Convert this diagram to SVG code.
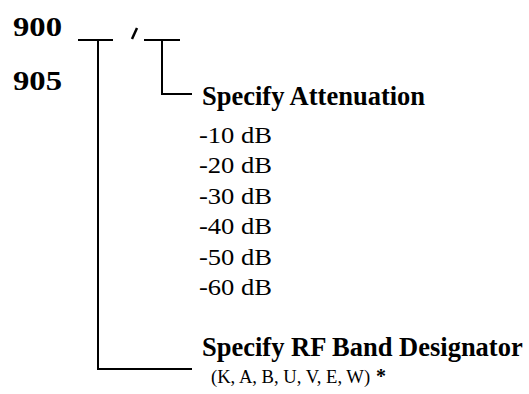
<svg xmlns="http://www.w3.org/2000/svg" width="529" height="394" viewBox="0 0 529 394">
<style>
.b{font-family:"Liberation Serif","Times New Roman",serif;font-weight:bold;fill:#000}
.r{font-family:"Liberation Serif","Times New Roman",serif;fill:#000}
.db{font-size:23px}
.ln{stroke:#000;stroke-width:2;fill:none}
</style>
<rect width="529" height="394" fill="#fff"/>
<g id="code-900"><text class="b" x="13" y="36" font-size="28" textLength="49" lengthAdjust="spacingAndGlyphs">900</text></g>
<g id="code-905"><text class="b" x="13" y="90" font-size="28" textLength="49" lengthAdjust="spacingAndGlyphs">905</text></g>
<g id="slash"><line x1="132" y1="39" x2="137" y2="28" stroke="#000" stroke-width="2.5"/></g>
<g id="attenuation"><text class="b" x="202" y="105" font-size="26.5">Specify Attenuation</text>
<text class="r db" x="199" y="143" textLength="73" lengthAdjust="spacingAndGlyphs">-10 dB</text>
<text class="r db" x="199" y="173.4" textLength="73" lengthAdjust="spacingAndGlyphs">-20 dB</text>
<text class="r db" x="199" y="203.8" textLength="73" lengthAdjust="spacingAndGlyphs">-30 dB</text>
<text class="r db" x="199" y="234.2" textLength="73" lengthAdjust="spacingAndGlyphs">-40 dB</text>
<text class="r db" x="199" y="264.6" textLength="73" lengthAdjust="spacingAndGlyphs">-50 dB</text>
<text class="r db" x="199" y="295" textLength="73" lengthAdjust="spacingAndGlyphs">-60 dB</text></g>
<g id="band"><text class="b" x="202" y="356" font-size="26.5">Specify RF Band Designator</text>
<text class="r" x="211" y="383" font-size="18.6">(K, A, B, U, V, E, W)</text>
<text class="b" x="376" y="383" font-size="20">*</text></g>
<g id="connectors">
<polyline class="ln" points="78,40 113,40"/>
<polyline class="ln" points="98,40 98,369 192,369"/>
<polyline class="ln" points="144,40 180,40"/>
<polyline class="ln" points="162,40 162,94 192,94"/>
</g>
</svg>
